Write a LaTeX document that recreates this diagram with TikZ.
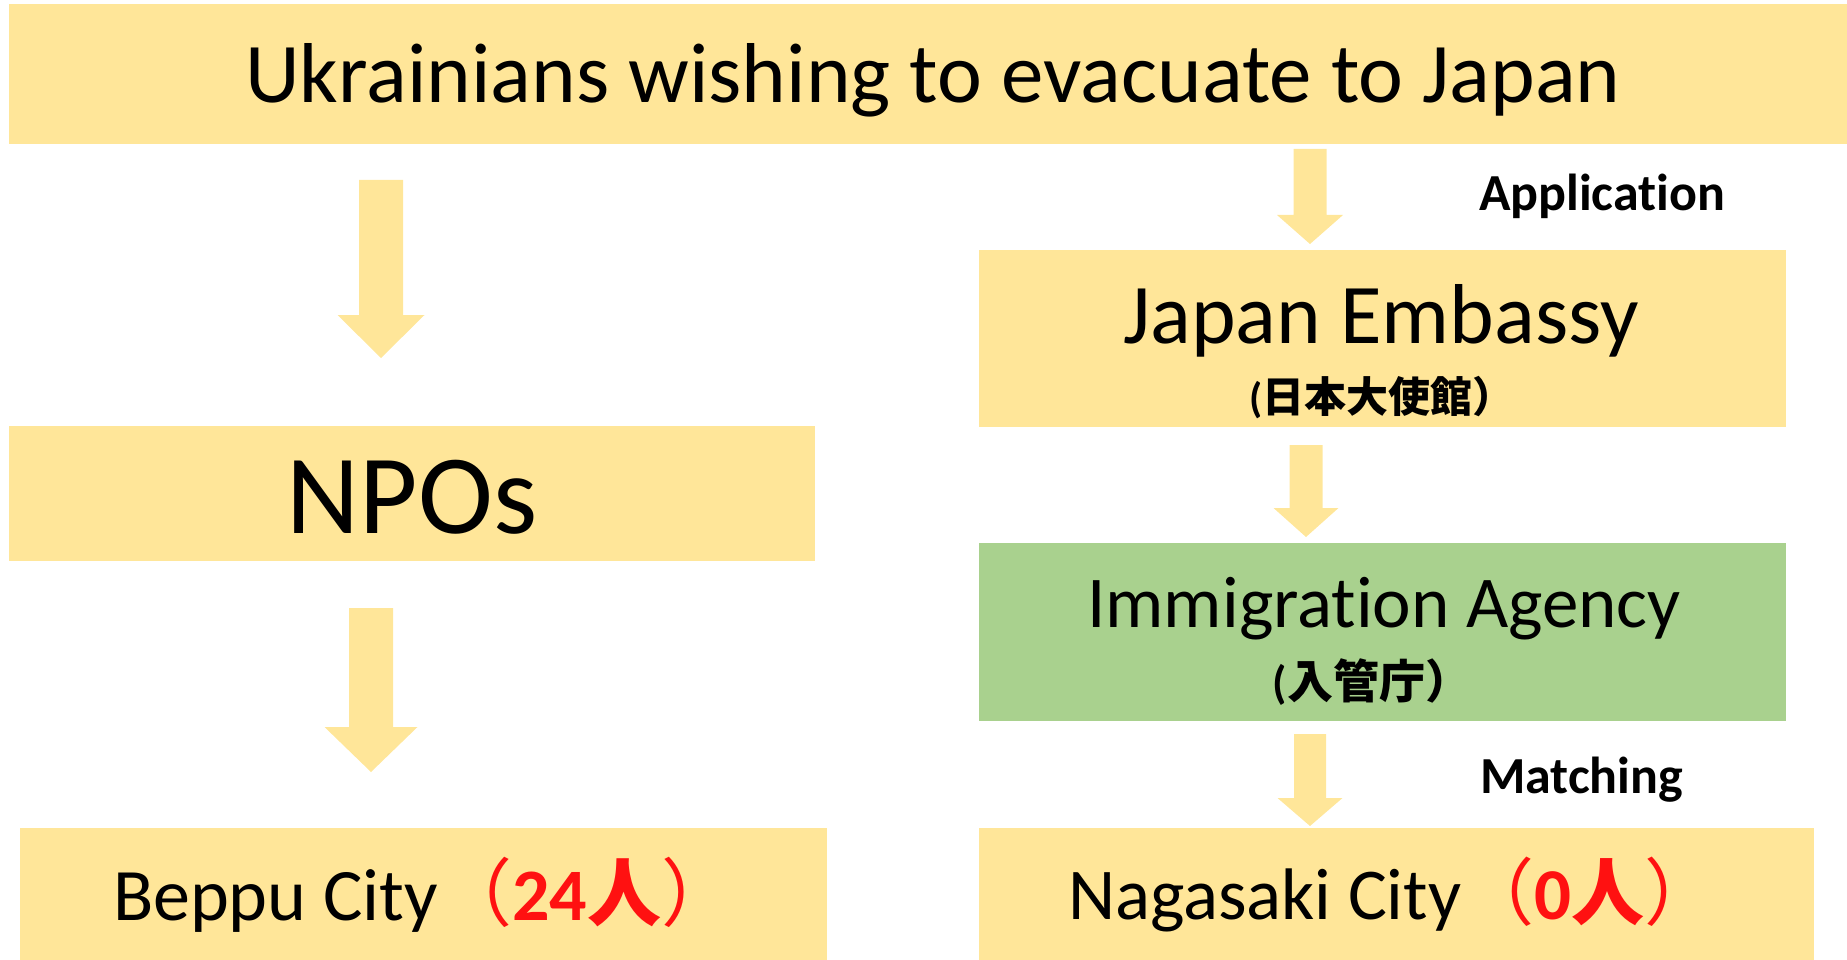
\documentclass[tikz,border=0pt]{standalone}
\usepackage{fontspec}
\setmainfont{Carlito}[Ligatures=CommonOff, RawFeature={-liga;-clig;-calt}]
\newfontfamily\jp{Noto Sans CJK JP}
\definecolor{boxyellow}{HTML}{FFE699}
\definecolor{boxgreen}{HTML}{A9D18E}
\definecolor{numred}{HTML}{FF1111}
\newcommand\fsz[1]{\fontsize{#1}{#1}\selectfont}
\newcommand\tinolig{t\kern0pt i}
% x centre, top, shaft end, tip, half shaft, half head
\newcommand\blockarrow[6]{\fill[arrowfill] (#1-#5,#2) -- (#1+#5,#2) -- (#1+#5,#3) -- (#1+#6,#3) -- (#1,#4) -- (#1-#6,#3) -- (#1-#5,#3) -- cycle;}
\begin{document}
\begin{tikzpicture}[x=1pt,y=-1pt,
  box/.style={rectangle, inner sep=0pt, outer sep=0pt, fill=boxyellow},
  greenbox/.style={box, fill=boxgreen},
  lbl/.style={inner sep=0pt, outer sep=0pt, anchor=base},
  lblw/.style={inner sep=0pt, outer sep=0pt, anchor=base west},
  arrowfill/.style={fill=boxyellow}]
\useasboundingbox (0,0) rectangle (1847,960);
% boxes
\node[box, minimum width=1838pt, minimum height=140pt] (top) at (928,74) {};
\node[box, minimum width=806pt, minimum height=135pt] (npo) at (412,493.5) {};
\node[box, minimum width=807pt, minimum height=132pt] (beppu) at (423.5,894) {};
\node[box, minimum width=807pt, minimum height=177pt] (emb) at (1382.5,338.5) {};
\node[greenbox, minimum width=807pt, minimum height=178pt] (imm) at (1382.5,632) {};
\node[box, minimum width=835pt, minimum height=132pt] (naga) at (1396.5,894) {};
% texts
\node[lbl] (toptxt) at (933,103) {\fsz{85}Ukrainians wishing to evacuate to Japan};
\node[lbl] (npotxt) at (412,533) {\fsz{113}NPOs};
\node[lblw] (beptxt) at (113,920) {\fsz{74}Beppu City{\color{numred}\jp （\textbf{\rmfamily 24}{\bfseries 人}）}};
\node[lbl] (embtxt) at (1381,343) {\fsz{85}Japan Embassy};
\node[lbl] (embjp) at (1382,412) {\fsz{42}\bfseries (\jp 日本大使館）};
\node[lbl] (immtxt) at (1384,627) {\fsz{73}Immigra\tinolig on Agency};
\node[lbl] (immjp) at (1372,698) {\fsz{46}\bfseries (\jp 入管庁）};
\node[lblw] (nagtxt) at (1068,919) {\fsz{73}Nagasaki City{\color{numred}\jp （\textbf{\rmfamily 0}{\bfseries 人}）}};
\node[lblw] (app) at (1479,211) {\fsz{52}\bfseries Applica\tinolig on};
\node[lblw] (match) at (1480,793) {\fsz{52}\bfseries Matching};
% block arrows
\blockarrow{381}{180}{315}{358}{22}{43.5}
\blockarrow{371}{608}{727}{772}{22}{46.5}
\blockarrow{1310}{149}{215}{244}{16.5}{33}
\blockarrow{1306}{445}{508}{537}{16.5}{32.5}
\blockarrow{1310}{734}{798}{826}{16}{32.5}
\end{tikzpicture}
\end{document}
